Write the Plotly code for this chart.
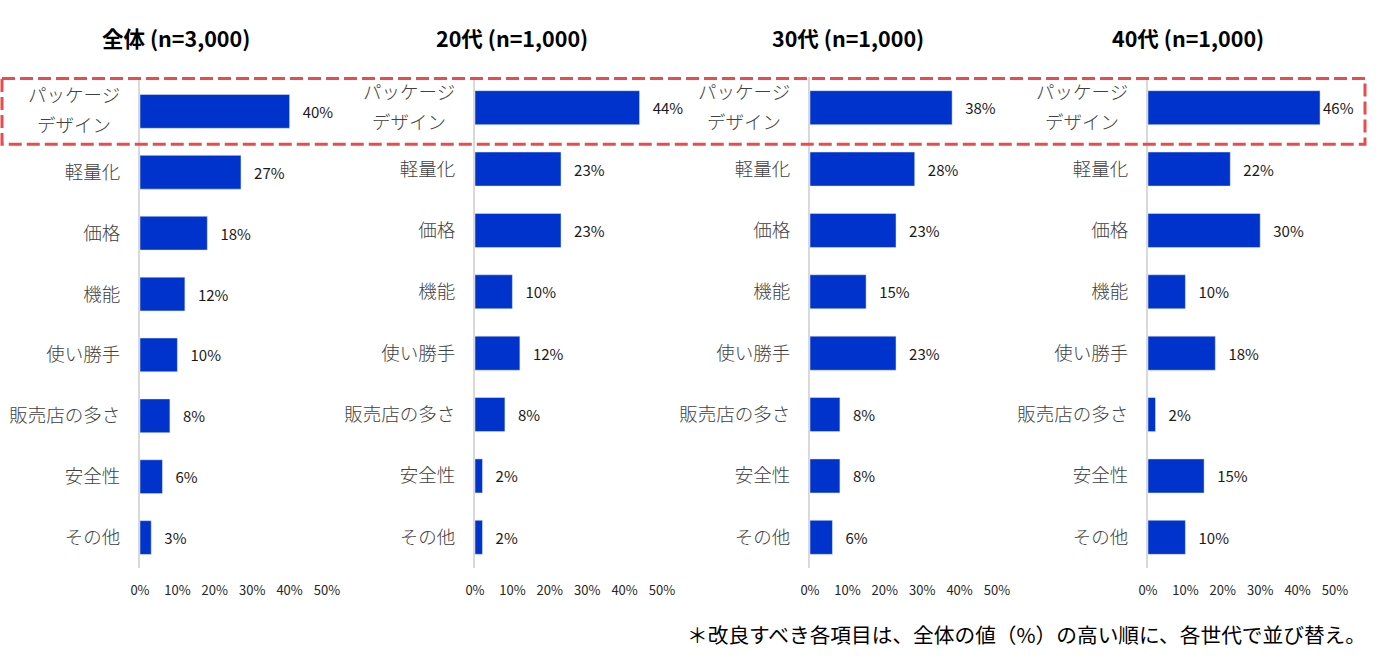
import plotly.graph_objects as go

# data
categories = ["パッケージデザイン", "軽量化", "価格", "機能", "使い勝手", "販売店の多さ", "安全性", "その他"]
first_label_lines = ["パッケージ", "デザイン"]
panel_titles = ["全体 (n=3,000)", "20代 (n=1,000)", "30代 (n=1,000)", "40代 (n=1,000)"]
val_all = [40, 27, 18, 12, 10, 8, 6, 3]
val_20s = [44, 23, 23, 10, 12, 8, 2, 2]
val_30s = [38, 28, 23, 15, 23, 8, 8, 6]
val_40s = [46, 22, 30, 10, 18, 2, 15, 10]
x_ticks = [0, 10, 20, 30, 40, 50]
note = "＊改良すべき各項目は、全体の値（%）の高い順に、各世代で並び替え。"

W, H = 1392, 662
FONT = "Noto Sans CJK JP"
BAR_COLOR = "#0033CC"
LABEL_FONT = dict(family=FONT, size=18.5, color="#404040", weight=300)

series = [val_all, val_20s, val_30s, val_40s]
# pixel spans of each panel's 0%..50% axis
x_px = [(140, 327), (475, 662), (810, 997), (1148, 1335)]
title_px = [176, 512, 848, 1188]
y_dom = [1 - 568 / H, 1 - 77 / H]

# the first item is drawn as two annotation lines, so its tick text is blank
tick_text = [""] + categories[1:]

fig = go.Figure()

for i, vals in enumerate(series):
    n = "" if i == 0 else str(i + 1)
    # push labels off the bar end, except when there's no room left
    labels = [("   " if v < 45 else "") + f"{v}%" for v in vals]
    fig.add_trace(go.Bar(
        x=vals, y=categories, orientation="h",
        marker_color=BAR_COLOR,
        text=labels, textposition="outside", cliponaxis=False,
        textfont=dict(family=FONT, size=15, color="#1a1a1a"),
        xaxis="x" + n, yaxis="y" + n,
        showlegend=False, hoverinfo="skip",
    ))
    x0, x1 = x_px[i]
    fig.update_layout(**{
        "xaxis" + n: dict(
            domain=[x0 / W, x1 / W], range=[0, 50],
            tickvals=x_ticks, ticktext=[f"{t}%" for t in x_ticks],
            showgrid=False, zeroline=False, showline=False, automargin=False,
            tickfont=dict(family=FONT, size=13, color="#262626"),
            ticklabelstandoff=13, anchor="y" + n, fixedrange=True,
        ),
        "yaxis" + n: dict(
            domain=y_dom, type="category", autorange="reversed",
            tickvals=categories, ticktext=tick_text,
            showline=True, linecolor="#D9D9D9", linewidth=2,
            showgrid=False, zeroline=False, ticks="", automargin=False,
            tickfont=LABEL_FONT,
            ticklabelstandoff=14, anchor="x" + n, fixedrange=True,
        ),
    })
    for line, shift in zip(first_label_lines, [17, -13]):
        fig.add_annotation(
            text=line, x=0, y=categories[0],
            xref=f"x{n} domain", yref="y" + n,
            xanchor="center", xshift=-66, yshift=shift,
            showarrow=False, font=LABEL_FONT,
        )
    fig.add_annotation(
        text=f"<b>{panel_titles[i]}</b>", x=title_px[i] / W, y=1 - 37 / H,
        xref="paper", yref="paper", xanchor="center", yanchor="middle",
        showarrow=False, font=dict(family=FONT, size=21.5, color="#000000"),
    )

# red dashed highlight round the first item
fig.add_shape(
    type="rect", xref="paper", yref="y",
    x0=2 / W, x1=1365 / W, y0=-0.54, y1=0.54,
    line=dict(color="#E84C4F", width=3, dash="13px,5px"),
)

fig.add_annotation(
    text=note, x=1368 / W, y=1 - 634 / H, xref="paper", yref="paper",
    xanchor="right", yanchor="middle", showarrow=False,
    font=dict(family=FONT, size=20.7, color="#000000"),
)

fig.update_layout(
    width=W, height=H,
    margin=dict(l=0, r=0, t=0, b=0),
    paper_bgcolor="white", plot_bgcolor="white",
    bargap=0.445,
    font=dict(family=FONT),
)

# drop the browser's default body margin so the figure sits at the page corner
fig.write_html("out.html", config={"displayModeBar": False},
               post_script="document.body.style.margin='0';")
